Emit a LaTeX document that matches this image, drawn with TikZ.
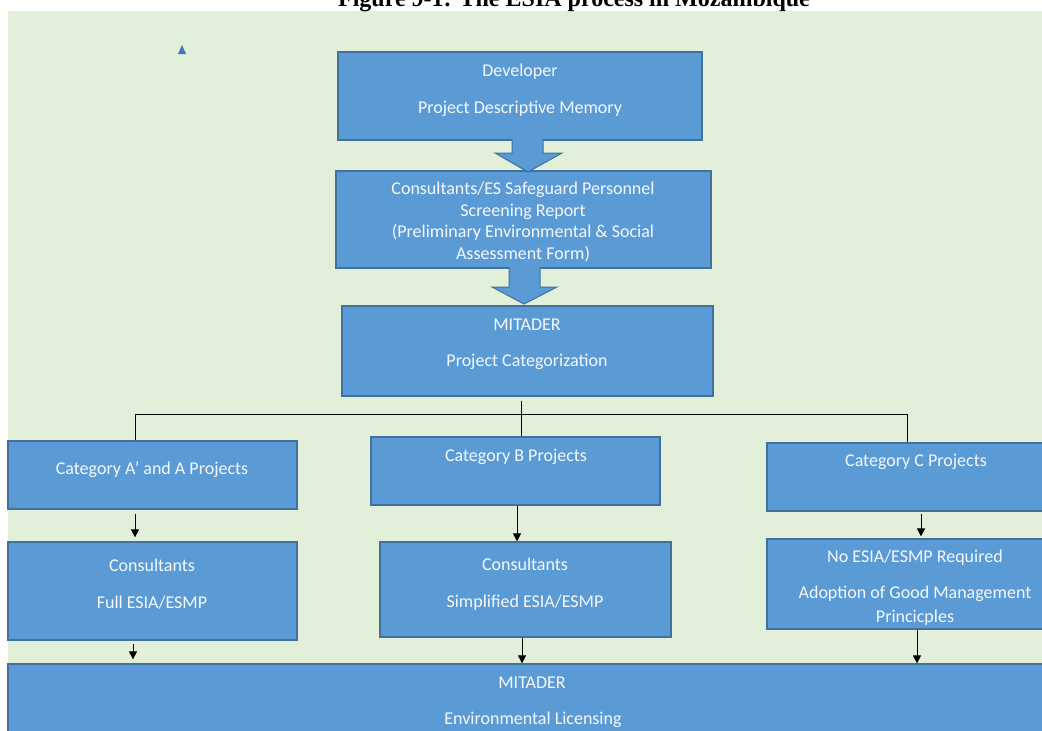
\documentclass[tikz,border=0pt]{standalone}
\usepackage{fontspec}
\setmainfont{Carlito}
\newfontfamily\titlefont{Liberation Serif}
\usetikzlibrary{arrows.meta}
\definecolor{bggreen}{HTML}{E2EFD9}
\definecolor{boxfill}{HTML}{5B9BD5}
\definecolor{boxline}{HTML}{41719C}
\definecolor{txt}{HTML}{F4F8FC}
\definecolor{tri}{HTML}{4472C4}
\begin{document}
\begin{tikzpicture}[x=1pt,y=-1pt,
  box/.style={draw=boxline, line width=1.3pt, fill=boxfill, inner sep=0pt},
  lbl/.style={text=txt, font=\fontsize{18}{20}\selectfont, anchor=mid, inner sep=0pt, yshift=-3.5pt},
  conn/.style={draw=black, line width=1pt},
  arr/.style={conn, -{Triangle[length=8pt,width=8pt]}},
  blockarrow/.style={draw=boxline, line width=1pt, fill=boxfill, line join=miter}]
\useasboundingbox (0,0) rectangle (1042,731);
\clip (0,0) rectangle (1042,731);
\fill[bggreen] (8,11) rectangle (1042,731);
\node[font=\titlefont\bfseries\fontsize{24}{28}\selectfont, anchor=base, inner sep=0pt] (title) at (574,6) {Figure 9-1: The ESIA process in Mozambique};
\fill[tri] (178,54) -- (182,45) -- (186,54) -- cycle;

% boxes
\node[box, minimum width=364pt, minimum height=88pt] (dev) at (520,96) {};
\node[box, minimum width=375pt, minimum height=97pt] (scr) at (523.5,219.5) {};
\node[box, minimum width=371pt, minimum height=90pt] (mit) at (527.5,351) {};
\node[box, minimum width=289pt, minimum height=68pt] (catA) at (152.5,475) {};
\node[box, minimum width=289pt, minimum height=68pt] (catB) at (515.5,471) {};
\node[box, minimum width=298pt, minimum height=68pt] (catC) at (916,477) {};
\node[box, minimum width=289pt, minimum height=98pt] (fullA) at (152.5,591) {};
\node[box, minimum width=291pt, minimum height=95pt] (simpB) at (525.5,589.5) {};
\node[box, minimum width=296pt, minimum height=90pt] (noC) at (915,584) {};
\node[box, minimum width=1050pt, minimum height=106pt] (lic) at (533,717) {};

% block arrows
\draw[blockarrow] (512,139) -- (512,153) -- (495,153) -- (528,172) -- (562,153) -- (543,153) -- (543,139);
\draw[blockarrow] (509,267) -- (509,287) -- (492,287) -- (524,304) -- (557,287) -- (540,287) -- (540,267);

% texts
\node[lbl] (devT1) at (520,71) {Developer};
\node[lbl] (devT2) at (520,108) {Project Descriptive Memory};
\node[lbl] (scrT1) at (523,189) {Consultants/ES Safeguard Personnel};
\node[lbl] (scrT2) at (523,211) {Screening Report};
\node[lbl] (scrT3) at (523,232) {(Preliminary Environmental \& Social};
\node[lbl] (scrT4) at (523,254) {Assessment Form)};
\node[lbl] (mitT1) at (527,325) {MITADER};
\node[lbl] (mitT2) at (527,361) {Project Categorization};
\node[lbl] (catAT) at (152,469) {Category A’ and A Projects};
\node[lbl] (catBT) at (516,456) {Category B Projects};
\node[lbl] (catCT) at (916,461) {Category C Projects};
\node[lbl] (fullAT1) at (152,566) {Consultants};
\node[lbl] (fullAT2) at (152,603) {Full ESIA/ESMP};
\node[lbl] (simpBT1) at (525,565) {Consultants};
\node[lbl] (simpBT2) at (525,602) {Simplified ESIA/ESMP};
\begin{scope}
\clip (767,539) rectangle (1042,627.5);
\node[lbl] (noCT1) at (915,557) {No ESIA/ESMP Required};
\node[lbl] (noCT2) at (915,593) {Adoption of Good Management};
\node[lbl] (noCT3) at (915,617) {Princicples};
\end{scope}
\node[lbl] (licT1) at (532,683) {MITADER};
\node[lbl] (licT2) at (533,719) {Environmental Licensing};

% tree connectors
\coordinate (jB) at (521,414);
\coordinate (jA) at (135,414);
\coordinate (jC) at (907,414);
\draw[conn] ([yshift=-4pt]mit.south -| jB) -- (catB.north -| jB);
\draw[conn] (catA.north -| jA) -- (jA) -- (jC) -- (catC.north -| jC);

% small arrows
\coordinate (xA1) at (135,0);
\coordinate (xB1) at (517,0);
\coordinate (xC1) at (921,0);
\coordinate (xA2) at (133,0);
\coordinate (xB2) at (522,0);
\coordinate (xC2) at (917,0);
\draw[arr] ([yshift=-4pt]catA.south -| xA1) -- ([yshift=4pt]fullA.north -| xA1);
\draw[arr] (catB.south -| xB1) -- (simpB.north -| xB1);
\draw[arr] ([yshift=-2pt]catC.south -| xC1) -- ([yshift=2pt]noC.north -| xC1);
\draw[arr] ([yshift=-3pt]fullA.south -| xA2) -- ([yshift=4pt]lic.north -| xA2);
\draw[arr] (simpB.south -| xB2) -- (lic.north -| xB2);
\draw[arr] (noC.south -| xC2) -- (lic.north -| xC2);
\end{tikzpicture}
\end{document}
